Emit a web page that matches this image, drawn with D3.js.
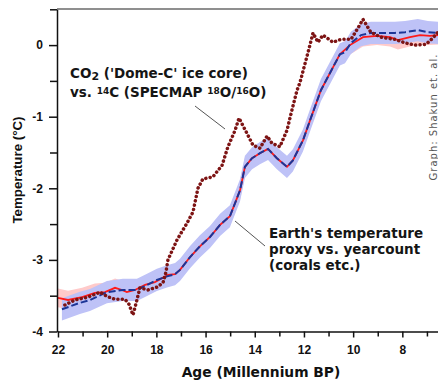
<!DOCTYPE html>
<html>
<head>
<meta charset="utf-8">
<script src="https://cdn.jsdelivr.net/npm/d3@7"></script>
<style>
  body { margin: 0; background: #fff; }
  svg { display: block; }
</style>
</head>
<body>
<div id="chart"></div>
<script>
// CO2 (Dome-C) dotted curve, age in kyr BP
const co2Age  = [21.72, 21.31, 20.78, 20.29, 20.01, 19.68, 19.28, 19.11, 18.95, 18.79, 18.67, 18.34, 17.98, 17.73, 17.61, 17.53, 17.16, 16.76, 16.51, 16.31, 16.11, 15.70, 15.33, 15.09, 14.80, 14.64, 14.32, 14.07, 13.79, 13.50, 13.30, 12.98, 12.69, 12.49, 12.28, 12.16, 11.84, 11.63, 11.43, 11.23, 10.82, 10.50, 10.09, 9.80, 9.60, 9.28, 8.87, 8.30, 7.89, 7.49, 7.04, 6.76, 6.55];
const co2Temp = [-3.63, -3.56, -3.52, -3.45, -3.51, -3.55, -3.55, -3.62, -3.77, -3.56, -3.39, -3.42, -3.38, -3.32, -3.17, -3.00, -2.72, -2.49, -2.33, -2.00, -1.87, -1.84, -1.68, -1.42, -1.19, -1.02, -1.23, -1.40, -1.44, -1.27, -1.37, -1.42, -1.19, -0.91, -0.63, -0.52, -0.11, 0.17, 0.04, 0.14, 0.04, 0.08, 0.08, 0.24, 0.36, 0.18, 0.11, 0.08, 0.03, 0.00, 0.01, 0.10, 0.18];

// temperature proxy (blue dashed, with band)
const proxyAge  = [21.84, 21.11, 20.70, 20.01, 19.36, 18.79, 18.38, 17.98, 17.57, 17.24, 17.04, 16.63, 16.23, 15.82, 15.41, 15.01, 14.60, 14.40, 14.11, 13.79, 13.46, 13.10, 12.69, 12.45, 12.04, 11.72, 11.31, 10.82, 10.54, 10.33, 10.09, 9.68, 9.28, 8.87, 8.30, 7.89, 7.37, 6.96, 6.55];
const proxyTemp = [-3.69, -3.60, -3.56, -3.45, -3.42, -3.42, -3.35, -3.28, -3.23, -3.20, -3.14, -2.96, -2.81, -2.68, -2.51, -2.39, -2.03, -1.70, -1.58, -1.51, -1.45, -1.58, -1.70, -1.61, -1.33, -1.02, -0.63, -0.31, -0.13, -0.10, 0.03, 0.14, 0.17, 0.17, 0.17, 0.18, 0.21, 0.18, 0.17];

// second reconstruction (red solid, with band)
const redAge  = [22.00, 21.59, 21.02, 20.50, 20.09, 19.68, 19.40, 19.20, 18.87, 18.46, 18.06, 17.53, 17.24, 17.04, 16.63, 16.23, 15.82, 15.41, 15.01, 14.60, 14.40, 14.11, 13.79, 13.46, 13.10, 12.69, 12.45, 12.04, 11.72, 11.31, 10.82, 10.54, 10.13, 9.60, 9.03, 8.50, 8.18, 7.69, 7.28, 6.88, 6.55];
const redTemp = [-3.53, -3.56, -3.52, -3.46, -3.45, -3.39, -3.42, -3.45, -3.42, -3.35, -3.31, -3.21, -3.20, -3.14, -2.96, -2.81, -2.68, -2.51, -2.39, -2.03, -1.70, -1.58, -1.51, -1.45, -1.58, -1.70, -1.61, -1.33, -1.02, -0.63, -0.31, -0.13, 0.00, 0.11, 0.13, 0.11, 0.07, 0.11, 0.14, 0.13, 0.14];

const xMajor = [22, 20, 18, 16, 14, 12, 10, 8];
const xMinor = [21, 19, 17, 15, 13, 11, 9, 7];
const yMajor = [0, -1, -2, -3, -4];
const yMinor = [0.5, -0.5, -1.5, -2.5, -3.5];

const width = 438, height = 380;
const plotLeft = 57, plotTop = 9.3, plotBottom = 331.5;

const svg = d3.select('#chart').append('svg')
  .attr('width', width)
  .attr('height', height)
  .style('font-family', '"DejaVu Sans", Verdana, sans-serif');

const x = d3.scaleLinear().domain([22.04, 6.55]).range([plotLeft, width]);
const y = d3.scaleLinear().domain([-4, 0.5]).range([plotBottom, plotTop]);

const zip = (a, b) => a.map((d, i) => ({age: d, t: b[i]}));
const co2 = zip(co2Age, co2Temp);
const proxy = zip(proxyAge, proxyTemp);
const red = zip(redAge, redTemp);

svg.append('clipPath').attr('id', 'plot')
  .append('rect').attr('x', plotLeft).attr('y', plotTop)
  .attr('width', width - plotLeft).attr('height', plotBottom - plotTop);

const g = svg.append('g').attr('clip-path', 'url(#plot)');

const band = w => d3.area()
  .x(d => x(d.age))
  .y0(d => y(d.t - w))
  .y1(d => y(d.t + w));
const line = d3.line().x(d => x(d.age)).y(d => y(d.t));

g.append('path').datum(red).attr('d', band(0.13)).attr('fill', '#ffcaca');
g.append('path').datum(proxy).attr('d', band(0.155)).attr('fill', '#bec2f7');
g.append('path').datum(red).attr('d', line)
  .attr('fill', 'none').attr('stroke', '#ff1a1a').attr('stroke-width', 1.8);
g.append('path').datum(proxy).attr('d', line)
  .attr('fill', 'none').attr('stroke', '#1c3597').attr('stroke-width', 2)
  .attr('stroke-dasharray', '7,3');
g.append('path').datum(co2).attr('d', line)
  .attr('fill', 'none').attr('stroke', '#7d1414').attr('stroke-width', 3.5)
  .attr('stroke-linecap', 'round').attr('stroke-dasharray', '0.1,4.3');

// top frame line
svg.append('line')
  .attr('x1', plotLeft).attr('x2', width).attr('y1', 9).attr('y2', 9)
  .attr('stroke', '#6a6a6a').attr('stroke-width', 1.6);

// axes
const axisFont = 'Liberation Sans, Arial, sans-serif';
const xAxis = svg.append('g').attr('transform', 'translate(0,' + plotBottom + ')')
  .call(d3.axisBottom(x).tickValues(xMajor).tickSize(6).tickPadding(8).tickSizeOuter(0));
svg.append('g').attr('transform', 'translate(0,' + plotBottom + ')')
  .call(d3.axisBottom(x).tickValues(xMinor).tickSize(5).tickFormat('').tickSizeOuter(0))
  .select('.domain').remove();
const yAxis = svg.append('g').attr('transform', 'translate(' + plotLeft + ',0)')
  .call(d3.axisLeft(y).tickValues(yMajor).tickFormat(d => String(d))
    .tickSize(8).tickPadding(6).tickSizeOuter(0));
svg.append('g').attr('transform', 'translate(' + plotLeft + ',0)')
  .call(d3.axisLeft(y).tickValues(yMinor).tickSize(7).tickFormat('').tickSizeOuter(0))
  .select('.domain').remove();

svg.selectAll('.domain, .tick line').attr('stroke', '#111').attr('stroke-width', 1.5);
[xAxis, yAxis].forEach(a => a.selectAll('text')
  .attr('fill', '#111')
  .style('font-family', axisFont)
  .style('font-weight', 'bold')
  .style('font-size', '12px'));

// axis titles
svg.append('text')
  .attr('x', 261).attr('y', 377)
  .attr('text-anchor', 'middle')
  .style('font-size', '13.8px').style('font-weight', 'bold')
  .attr('fill', '#111')
  .text('Age (Millennium BP)');
svg.append('text')
  .attr('transform', 'translate(22,170) rotate(-90)')
  .attr('text-anchor', 'middle')
  .style('font-family', axisFont)
  .style('font-size', '13.3px').style('font-weight', 'bold')
  .attr('fill', '#111')
  .text('Temperature (°C)');

// credit
svg.append('text')
  .attr('transform', 'translate(436.5,117) rotate(-90)')
  .attr('text-anchor', 'middle')
  .style('font-size', '10px')
  .style('letter-spacing', '1px')
  .attr('fill', '#555')
  .text('Graph: Shakun et. al.');

// annotations
const note = (lines, x0, y0, step) => {
  const t = svg.append('text')
    .attr('x', x0).attr('y', y0)
    .style('font-size', '13.5px').style('font-weight', 'bold')
    .attr('fill', '#151515');
  lines.forEach((parts, i) => {
    parts.forEach((p, j) => {
      const s = t.append('tspan').text(p.text);
      if (j === 0) s.attr('x', x0).attr('dy', i === 0 ? 0 : step);
      if (p.sup) s.attr('baseline-shift', '35%').style('font-size', '9px');
      if (p.sub) s.attr('baseline-shift', '-20%').style('font-size', '11px');
    });
  });
};
note([
  [{text: 'CO'}, {text: '2', sub: true}, {text: " ('Dome-C' ice core)"}],
  [{text: 'vs. '}, {text: '14', sup: true}, {text: 'C (SPECMAP '}, {text: '18', sup: true},
   {text: 'O/'}, {text: '16', sup: true}, {text: 'O)'}]
], 70, 78, 19);
note([
  [{text: "Earth's temperature"}],
  [{text: 'proxy vs. yearcount'}],
  [{text: '(corals etc.)'}]
], 269, 238, 16);

// leader lines
svg.append('line').attr('x1', 195).attr('y1', 106).attr('x2', 225).attr('y2', 129)
  .attr('stroke', '#555').attr('stroke-width', 1);
svg.append('line').attr('x1', 235).attr('y1', 221).attr('x2', 265).attr('y2', 246)
  .attr('stroke', '#555').attr('stroke-width', 1);
</script>
</body>
</html>
